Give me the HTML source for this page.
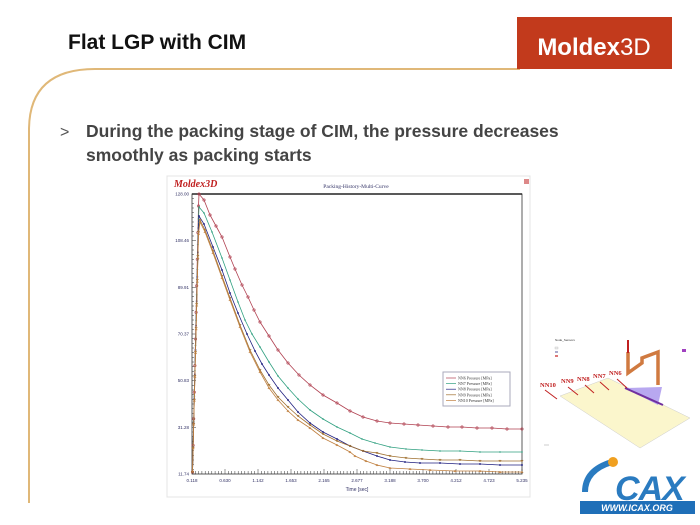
<!DOCTYPE html>
<html><head><meta charset="utf-8"><style>
body{margin:0;width:700px;height:525px;background:#fff;overflow:hidden;position:relative;font-family:"Liberation Sans",Arial,sans-serif}
</style></head><body>
<svg width="700" height="525" style="position:absolute;left:0;top:0" xmlns="http://www.w3.org/2000/svg">
<path d="M29,503 L29,130 Q29,69 95,69 L520,69" fill="none" stroke="#e0b878" stroke-width="2"/>
<rect x="517" y="17" width="155" height="52" fill="#c23a1c"/>
<text x="594" y="55" text-anchor="middle" font-size="24" font-weight="bold" fill="#fff" font-family="Liberation Sans,sans-serif">Moldex<tspan font-weight="normal">3D</tspan></text>
<text x="68" y="49" font-size="21" font-weight="bold" fill="#111">Flat LGP with CIM</text>
<text x="60" y="137" font-size="16" fill="#555">&gt;</text>
<text x="86" y="137" font-size="17.5" font-weight="bold" fill="#444">During the packing stage of CIM, the pressure decreases</text>
<text x="86" y="161" font-size="17.5" font-weight="bold" fill="#444">smoothly as packing starts</text>

<rect x="167" y="176" width="363" height="321" fill="#fff" stroke="#e4e4e4"/>
<text x="174" y="187" font-size="10" font-style="italic" font-weight="bold" fill="#c02020" font-family="Liberation Serif,serif">Moldex3D</text>
<text x="356" y="188" text-anchor="middle" font-size="5.5" fill="#336" font-family="Liberation Serif,serif">Packing-History-Multi-Curve</text>
<rect x="524" y="179" width="5" height="5" fill="#d88"/>
<rect x="192" y="194" width="330" height="280" fill="#fff" stroke="#333" stroke-width="0.8"/>
<line x1="192" y1="194" x2="522" y2="194" stroke="#222" stroke-width="1.5"/>
<g font-size="4.5" fill="#336" text-anchor="end" font-family="Liberation Sans,sans-serif" id="yl"></g>
<g id="ticks" stroke="#333" stroke-width="0.5"></g>
<g font-size="4.5" fill="#336" text-anchor="middle" id="xl"></g>
<text x="357" y="491" text-anchor="middle" font-size="5" fill="#336">Time [sec]</text>
<g id="curves"></g>
<rect x="443" y="372" width="67" height="34" fill="#fff" stroke="#aab"/>
<g id="leg" font-size="4" fill="#333" font-family="Liberation Serif,serif"></g>

<text x="555" y="341" font-size="3" fill="#333">Node_Sensors</text>
<rect x="555" y="347" width="3" height="2" fill="#eee" stroke="#aaa" stroke-width="0.3"/>
<rect x="555" y="351" width="3" height="2" fill="#aac"/>
<rect x="555" y="355" width="3" height="2" fill="#d77"/>
<rect x="682" y="349" width="4" height="3" fill="#a040c0"/>
<polygon points="560,396 608,378 690,418 640,448" fill="#fbf6cc" stroke="#ccc" stroke-width="0.5"/>
<polygon points="625,388 662,387 658,405" fill="#b8a8f0"/>
<line x1="625" y1="388" x2="663" y2="405" stroke="#7030a0" stroke-width="2"/>
<path d="M628,352 L628,373 L642,363 L642,358 L658,352 L658,385" fill="none" stroke="#d07a40" stroke-width="3.5"/>
<line x1="628" y1="340" x2="628" y2="353" stroke="#c02020" stroke-width="2"/>
<g font-size="6.5" font-weight="bold" fill="#c02020" font-family="Liberation Serif,serif">
<text x="540" y="387">NN10</text><text x="561" y="383">NN9</text><text x="577" y="381">NN8</text><text x="593" y="378">NN7</text><text x="609" y="375">NN6</text></g>
<g stroke="#c02020" stroke-width="1"><line x1="545" y1="390" x2="557" y2="399"/><line x1="568" y1="387" x2="578" y2="395"/><line x1="585" y1="385" x2="594" y2="393"/><line x1="600" y1="382" x2="609" y2="390"/><line x1="617" y1="379" x2="627" y2="388"/></g>
<line x1="544" y1="445" x2="549" y2="445" stroke="#ccc"/>
<g>
<path d="M585,492 Q585,470 612,462" fill="none" stroke="#2a7bc0" stroke-width="6"/>
<circle cx="613" cy="462" r="5" fill="#f0a020"/>
<text x="615" y="500" font-size="34" font-style="italic" font-weight="bold" fill="#2a7bc0" font-family="Liberation Sans,sans-serif" letter-spacing="-1">CAX</text>
<rect x="580" y="501" width="115" height="13" fill="#1f6fb8"/>
<text x="637" y="511" text-anchor="middle" font-size="9" font-weight="bold" font-style="italic" fill="#fff">WWW.ICAX.ORG</text>
</g>
</svg>
<script>
var NS="http://www.w3.org/2000/svg";
function el(t,a,p){var e=document.createElementNS(NS,t);for(var k in a)e.setAttribute(k,a[k]);p.appendChild(e);return e;}
var yl=document.getElementById('yl'),xl=document.getElementById('xl'),tk=document.getElementById('ticks');
var yv=["128.00","108.46","89.91","70.37","50.83","31.28","11.74"];
for(var i=0;i<7;i++){var y=194+i*280/6;var t=el('text',{x:189,y:y+1.5},yl);t.textContent=yv[i];}
var xv=["0.118","0.630","1.142","1.653","2.165","2.677","3.188","3.700","4.212","4.723","5.235"];
for(var i=0;i<11;i++){var x=192+i*33;var t=el('text',{x:x,y:482},xl);t.textContent=xv[i];}
for(var i=0;i<=100;i++){var x=192+i*3.3;el('line',{x1:x,y1:474,x2:x,y2:i%10==0?469:471},tk);}
for(var i=0;i<=60;i++){var y=194+i*280/60;el('line',{x1:192,y1:y,x2:i%10==0?196:194,y2:y},tk);}
function rise(py){var a=[];for(var k=0;k<=10;k++){a.push([192.5+k*0.6,472-(472-py-12)*k/10]);}return a;}
var S=[
{c:"#b04050",m:"o",p:rise(194).concat([[199,194],[204,200],[210,215],[216,226],[222,237],[230,257],[235,269],[242,285],[248,297],[254,310],[260,322],[269,336],[278,350],[288,363],[299,375],[310,385],[323,395],[337,403],[350,411],[363,417],[377,421],[390,423],[404,424],[418,425],[433,426],[448,427],[462,427],[477,428],[492,428],[507,429],[522,429]])},
{c:"#30a080",m:"+",p:rise(207).concat([[199,207],[204,213],[212,232],[222,258],[230,280],[238,302],[245,320],[252,334],[260,347],[269,362],[278,376],[288,388],[298,399],[310,410],[323,419],[337,427],[350,433],[362,439],[375,443],[390,447],[406,449],[422,450],[440,451],[460,451],[480,452],[500,452],[522,452]])},
{c:"#202080",m:"x",p:rise(216).concat([[199,216],[204,224],[213,247],[222,270],[230,293],[238,313],[247,334],[255,351],[262,364],[269,375],[278,388],[288,400],[298,412],[310,423],[323,432],[337,439],[350,446],[363,451],[377,456],[390,460],[405,462],[420,463],[440,463],[460,464],[480,464],[500,465],[522,465]])},
{c:"#a07030",m:"v",p:rise(220).concat([[200,220],[205,230],[213,251],[222,276],[230,298],[240,325],[250,350],[260,370],[269,385],[278,397],[288,407],[298,416],[310,425],[323,434],[337,441],[350,446],[363,451],[377,453],[390,456],[406,458],[422,459],[440,460],[460,460],[480,461],[500,461],[522,461]])},
{c:"#c08040",m:"^",p:rise(222).concat([[200,222],[205,232],[213,253],[222,278],[230,300],[240,327],[250,352],[260,372],[269,388],[278,400],[288,411],[298,420],[310,428],[323,438],[337,445],[350,452],[355,456],[366,461],[377,465],[390,468],[410,469],[430,470],[455,471],[480,471],[500,472],[522,472]])}];
var cg=document.getElementById('curves');
S.forEach(function(s){
 var pts=s.p;
 el('polyline',{points:pts.map(function(q){return q.join(',')}).join(' '),fill:'none',stroke:s.c,'stroke-width':0.8},cg);
 pts.forEach(function(q){
  if(s.m=="o")el('circle',{cx:q[0],cy:q[1],r:1.2,fill:'none',stroke:s.c,'stroke-width':0.6},cg);
  else if(s.m=="+")el('path',{d:'M'+(q[0]-1)+','+q[1]+'h2M'+q[0]+','+(q[1]-1)+'v2',stroke:s.c,'stroke-width':0.5},cg);
  else if(s.m=="x")el('rect',{x:q[0]-0.8,y:q[1]-0.8,width:1.6,height:1.6,fill:s.c},cg);
  else if(s.m=="v")el('path',{d:'M'+(q[0]-1.2)+','+(q[1]-0.8)+'h2.4l-1.2,1.8z',fill:'none',stroke:s.c,'stroke-width':0.5},cg);
  else el('path',{d:'M'+(q[0]-1.2)+','+(q[1]+0.8)+'h2.4l-1.2,-1.8z',fill:'none',stroke:s.c,'stroke-width':0.5},cg);
 });
});
var lg=document.getElementById('leg');var names=["NN6","NN7","NN8","NN9","NN10"];
for(var i=0;i<5;i++){var y=379+i*5.6;el('line',{x1:446,y1:y-1,x2:456,y2:y-1,stroke:S[i].c,'stroke-width':0.7},lg);
var t=el('text',{x:458,y:y+0.5},lg);t.textContent=names[i]+" Pressure [MPa]";}
</script>
</body></html>
